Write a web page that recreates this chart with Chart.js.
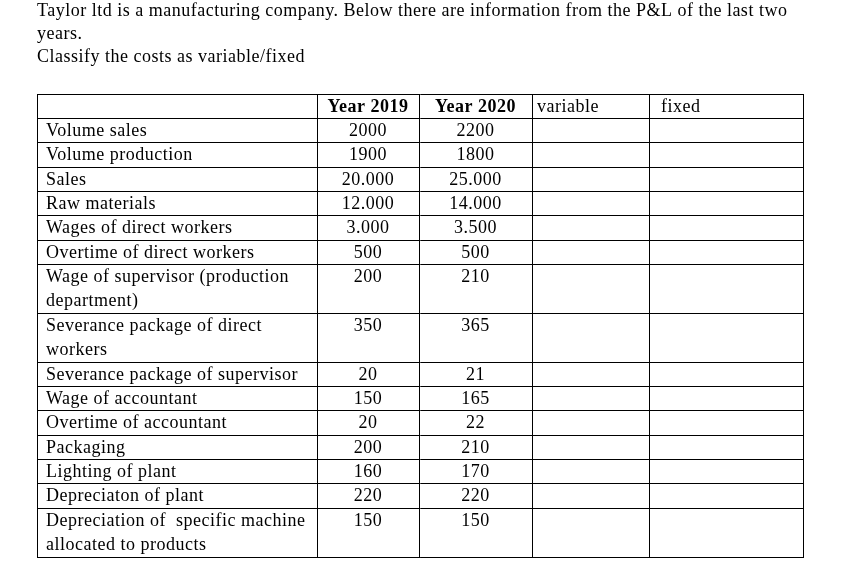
<!DOCTYPE html>
<html>
<head>
<meta charset="utf-8">
<script src="https://cdn.jsdelivr.net/npm/chart.js@4.4.1/dist/chart.umd.min.js"></script>
<style>
  html, body { margin: 0; background: #fff; }
  #wrap { width: 848px; height: 569px; }
</style>
</head>
<body>
<div id="wrap"><canvas id="tableChart"></canvas></div>
<script>
// Table content
const headers = ['', 'Year 2019', 'Year 2020', 'variable', 'fixed'];
const items = [
    ['Volume sales'],
    ['Volume production'],
    ['Sales'],
    ['Raw materials'],
    ['Wages of direct workers'],
    ['Overtime of direct workers'],
    ['Wage of supervisor (production', 'department)'],
    ['Severance package of direct', 'workers'],
    ['Severance package of supervisor'],
    ['Wage of accountant'],
    ['Overtime of accountant'],
    ['Packaging'],
    ['Lighting of plant'],
    ['Depreciaton of plant'],
    ['Depreciation of  specific machine', 'allocated to products']
];
const year2019 = ['2000', '1900', '20.000', '12.000', '3.000', '500', '200', '350', '20', '150', '20', '200', '160', '220', '150'];
const year2020 = ['2200', '1800', '25.000', '14.000', '3.500', '500', '210', '365', '21', '165', '22', '210', '170', '220', '150'];

const titleLines = [
    'Taylor ltd is a manufacturing company. Below there are information from the P&L of the last two',
    'years.',
    'Classify the costs as variable/fixed'
];

// layout of the table (column widths in px, row heights in lines)
const colWidths = [280, 102, 113, 117, 154];
const colEdges = [0];
colWidths.forEach(w => colEdges.push(colEdges[colEdges.length - 1] + w));
const rowLines = [1].concat(items.map(it => it.length));
const rowEdges = [0];
rowLines.forEach(n => rowEdges.push(rowEdges[rowEdges.length - 1] + n));

const FONT = '"Liberation Serif", "Times New Roman", serif';
const FONT_SIZE = 18;
const SPACING = '0.5px';

// wider letter spacing, like the word processor rendering
const spacing = {
    id: 'spacing',
    beforeDraw(chart) {
        chart.ctx.letterSpacing = SPACING;
    }
};

// draws the cell texts on top of the grid
const cellText = {
    id: 'cellText',
    afterDraw(chart) {
        const ctx = chart.ctx;
        const xs = chart.scales.x;
        const ys = chart.scales.y;
        const lineH = ys.getPixelForValue(1) - ys.getPixelForValue(0);
        ctx.save();
        ctx.letterSpacing = SPACING;
        ctx.fillStyle = '#000';
        ctx.textBaseline = 'alphabetic';

        function put(text, col, row, line, align, bold) {
            const left = xs.getPixelForValue(colEdges[col]);
            const right = xs.getPixelForValue(colEdges[col + 1]);
            const top = ys.getPixelForValue(rowEdges[row]);
            ctx.font = (bold ? 'bold ' : '') + FONT_SIZE + 'px ' + FONT;
            let x;
            if (align === 'center') { ctx.textAlign = 'center'; x = (left + right) / 2; }
            else { ctx.textAlign = 'left'; x = left + (col === 4 ? 12 : col === 3 ? 5 : 9); }
            ctx.fillText(text, x, top + 17.5 + line * lineH);
        }

        headers.forEach((h, c) => {
            if (!h) return;
            put(h, c, 0, 0, c < 3 ? 'center' : 'left', c < 3);
        });
        items.forEach((lines, i) => {
            lines.forEach((t, l) => put(t, 0, i + 1, l, 'left', false));
            put(year2019[i], 1, i + 1, 0, 'center', false);
            put(year2020[i], 2, i + 1, 0, 'center', false);
        });
        ctx.restore();
    }
};

const gridOpts = {
    color: '#000',
    lineWidth: 1,
    drawTicks: false
};

new Chart(document.getElementById('tableChart'), {
    type: 'scatter',
    data: { datasets: [{ data: [] }] },
    options: {
        responsive: true,
        maintainAspectRatio: false,
        animation: false,
        events: [],
        layout: { padding: { left: 37, right: 45, top: 0, bottom: 12 } },
        plugins: {
            legend: { display: false },
            tooltip: { enabled: false },
            title: {
                display: true,
                text: titleLines,
                align: 'start',
                color: '#000',
                font: { family: FONT, size: FONT_SIZE, weight: 'normal', lineHeight: '23px' },
                padding: { top: 0, bottom: 25 }
            }
        },
        scales: {
            x: {
                type: 'linear',
                min: 0,
                max: colEdges[colEdges.length - 1],
                afterBuildTicks: s => { s.ticks = colEdges.map(v => ({ value: v })); },
                ticks: { display: false },
                grid: gridOpts,
                border: { display: true, color: '#000', width: 1 }
            },
            y: {
                type: 'linear',
                reverse: true,
                min: 0,
                max: rowEdges[rowEdges.length - 1],
                afterBuildTicks: s => { s.ticks = rowEdges.map(v => ({ value: v })); },
                ticks: { display: false },
                grid: gridOpts,
                border: { display: true, color: '#000', width: 1 }
            }
        }
    },
    plugins: [spacing, cellText]
});
</script>
</body>
</html>
